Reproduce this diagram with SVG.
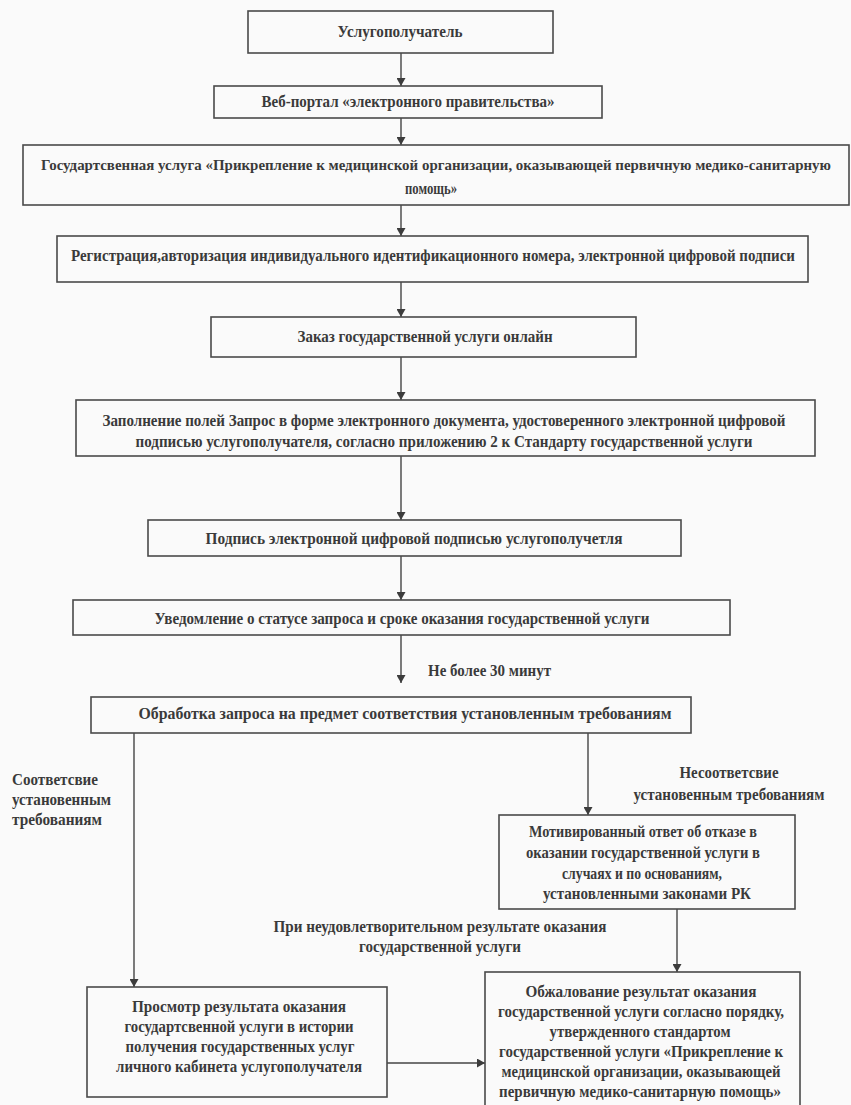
<svg xmlns="http://www.w3.org/2000/svg" width="851" height="1105" viewBox="0 0 851 1105">
<defs>
<marker id="ah" markerWidth="8" markerHeight="9" refX="8" refY="4.5" orient="auto" markerUnits="userSpaceOnUse">
<path d="M0,0 L8,4.5 L0,9 Z" fill="#3c3c3c"/>
</marker>
<style>
.box{fill:none;stroke:#4a4a4a;stroke-width:1.6}
.t{font-family:"Liberation Serif","Times New Roman",serif;font-weight:bold;font-size:16px;fill:#3a3a3a}
.c{text-anchor:middle}
.s{font-size:14.5px}
.ln{stroke:#444;stroke-width:1.4;fill:none}
</style>
</defs>
<rect width="851" height="1105" fill="#fafafa"/>

<g id="connectors">
<line class="ln" x1="401" y1="53" x2="401" y2="86" marker-end="url(#ah)"/>
<line class="ln" x1="401" y1="118" x2="401" y2="145" marker-end="url(#ah)"/>
<line class="ln" x1="401" y1="205" x2="401" y2="236" marker-end="url(#ah)"/>
<line class="ln" x1="401" y1="282" x2="401" y2="317" marker-end="url(#ah)"/>
<line class="ln" x1="401" y1="357" x2="401" y2="400" marker-end="url(#ah)"/>
<line class="ln" x1="401" y1="456" x2="401" y2="520" marker-end="url(#ah)"/>
<line class="ln" x1="401" y1="556" x2="401" y2="600" marker-end="url(#ah)"/>
<line class="ln" x1="401" y1="635" x2="401" y2="683" marker-end="url(#ah)"/>
<line class="ln" x1="134" y1="733" x2="134" y2="987" marker-end="url(#ah)"/>
<line class="ln" x1="588" y1="733" x2="588" y2="815" marker-end="url(#ah)"/>
<line class="ln" x1="677" y1="909" x2="677" y2="972" marker-end="url(#ah)"/>
<line class="ln" x1="387" y1="1063" x2="485" y2="1063" stroke-width="2.4" marker-end="url(#ah)"/>
<text class="t" x="428" y="676" textLength="123" lengthAdjust="spacingAndGlyphs">Не более 30 минут</text>
<text class="t" x="12" y="785" textLength="86" lengthAdjust="spacingAndGlyphs">Соответсвие</text>
<text class="t" x="12" y="805" textLength="99" lengthAdjust="spacingAndGlyphs">установенным</text>
<text class="t" x="12" y="825" textLength="90" lengthAdjust="spacingAndGlyphs">требованиям</text>
<text class="t c" x="729" y="778" textLength="99" lengthAdjust="spacingAndGlyphs">Несоответсвие</text>
<text class="t c" x="729" y="800" textLength="191" lengthAdjust="spacingAndGlyphs">установенным требованиям</text>
<text class="t c" x="440" y="932" textLength="333" lengthAdjust="spacingAndGlyphs">При неудовлетворительном результате оказания</text>
<text class="t c" x="440" y="952" textLength="162" lengthAdjust="spacingAndGlyphs">государственной услуги</text>
</g>

<g id="n1">
<rect class="box" x="248" y="11" width="305" height="42"/>
<text class="t c" x="400" y="37" textLength="125" lengthAdjust="spacingAndGlyphs">Услугополучатель</text>
</g>
<g id="n2">
<rect class="box" x="214" y="86" width="388" height="32"/>
<text class="t c" x="408" y="107" textLength="293" lengthAdjust="spacingAndGlyphs">Веб-портал «электронного правительства»</text>
</g>
<g id="n3">
<rect class="box" x="23" y="145" width="826" height="60"/>
<text class="t c s" x="436" y="170" textLength="790" lengthAdjust="spacingAndGlyphs">Государтсвенная услуга «Прикрепление к медицинской организации, оказывающей первичную медико-санитарную</text>
<text class="t c" x="431" y="194" textLength="52" lengthAdjust="spacingAndGlyphs">помощь»</text>
</g>
<g id="n4">
<rect class="box" x="57" y="236" width="751" height="46"/>
<text class="t c" x="433" y="261" textLength="724" lengthAdjust="spacingAndGlyphs">Регистрация,авторизация индивидуального идентификационного номера, электронной цифровой подписи</text>
</g>
<g id="n5">
<rect class="box" x="211" y="317" width="425" height="40"/>
<text class="t c" x="425" y="342" textLength="255" lengthAdjust="spacingAndGlyphs">Заказ государственной услуги онлайн</text>
</g>
<g id="n6">
<rect class="box" x="76" y="400" width="739" height="56"/>
<text class="t c" x="444" y="426" textLength="683" lengthAdjust="spacingAndGlyphs">Заполнение полей Запрос в форме электронного документа, удостоверенного электронной цифровой</text>
<text class="t c" x="444" y="447" textLength="617" lengthAdjust="spacingAndGlyphs">подписью услугополучателя, согласно приложению 2 к Стандарту государственной услуги</text>
</g>
<g id="n7">
<rect class="box" x="148" y="520" width="533" height="36"/>
<text class="t c" x="414" y="544" textLength="417" lengthAdjust="spacingAndGlyphs">Подпись электронной цифровой подписью услугополучетля</text>
</g>
<g id="n8">
<rect class="box" x="73" y="600" width="657" height="35"/>
<text class="t c" x="402" y="624" textLength="495" lengthAdjust="spacingAndGlyphs">Уведомление о статусе запроса и сроке оказания государственной услуги</text>
</g>
<g id="n9">
<rect class="box" x="91" y="697" width="600" height="36"/>
<text class="t c" x="405" y="719" textLength="533" lengthAdjust="spacingAndGlyphs">Обработка запроса на предмет соответствия установленным требованиям</text>
</g>
<g id="n10">
<rect class="box" x="87" y="987" width="300" height="110"/>
<text class="t c" x="239" y="1012" textLength="214" lengthAdjust="spacingAndGlyphs">Просмотр результата оказания</text>
<text class="t c" x="239" y="1032" textLength="229" lengthAdjust="spacingAndGlyphs">государтсвенной услуги в истории</text>
<text class="t c" x="240" y="1052" textLength="229" lengthAdjust="spacingAndGlyphs">получения государственных услуг</text>
<text class="t c" x="239" y="1072" textLength="246" lengthAdjust="spacingAndGlyphs">личного кабинета услугополучателя</text>
</g>
<g id="n11">
<rect class="box" x="499" y="815" width="296" height="94"/>
<text class="t c" x="643" y="837" textLength="228" lengthAdjust="spacingAndGlyphs">Мотивированный ответ об отказе в</text>
<text class="t c" x="643" y="858" textLength="234" lengthAdjust="spacingAndGlyphs">оказании государственной услуги в</text>
<text class="t c" x="642" y="879" textLength="160" lengthAdjust="spacingAndGlyphs">случаях и по основаниям,</text>
<text class="t c" x="647" y="899" textLength="208" lengthAdjust="spacingAndGlyphs">установленными законами РК</text>
</g>
<g id="n12">
<rect class="box" x="485" y="972" width="315" height="140"/>
<text class="t c" x="641" y="997" textLength="231" lengthAdjust="spacingAndGlyphs">Обжалование результат оказания</text>
<text class="t c" x="641" y="1017" textLength="286" lengthAdjust="spacingAndGlyphs">государственной услуги согласно порядку,</text>
<text class="t c" x="640" y="1037" textLength="181" lengthAdjust="spacingAndGlyphs">утвержденного стандартом</text>
<text class="t c" x="641" y="1057" textLength="284" lengthAdjust="spacingAndGlyphs">государственной услуги «Прикрепление к</text>
<text class="t c" x="641" y="1077" textLength="279" lengthAdjust="spacingAndGlyphs">медицинской организации, оказывающей</text>
<text class="t c" x="640" y="1097" textLength="282" lengthAdjust="spacingAndGlyphs">первичную медико-санитарную помощь»</text>
</g>
</svg>
